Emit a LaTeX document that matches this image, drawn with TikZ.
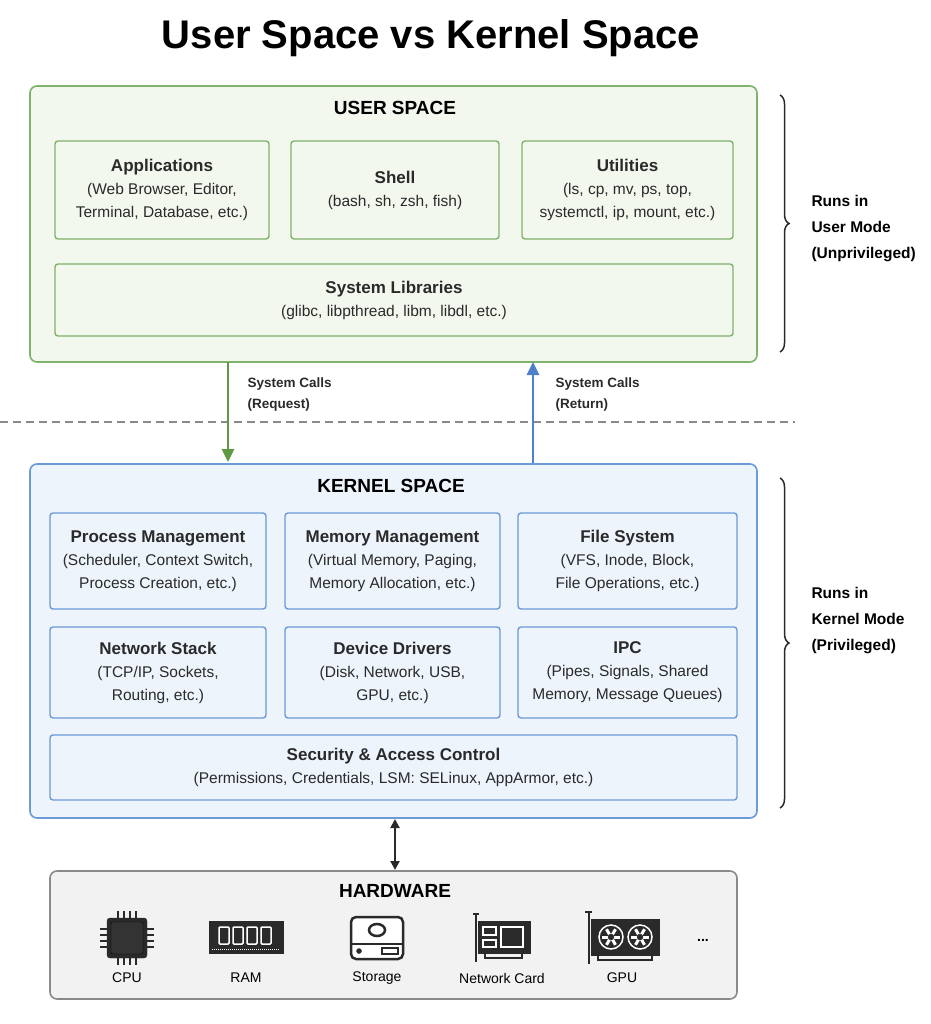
\documentclass[tikz,border=0pt]{standalone}
\usepackage{fontspec}
\setmainfont{Liberation Sans}
\usetikzlibrary{positioning, decorations.pathreplacing, arrows.meta}

\definecolor{ufill}{HTML}{F3F8EF}
\definecolor{uline}{HTML}{7FB26A}
\definecolor{kfill}{HTML}{EEF4FC}
\definecolor{kline}{HTML}{6A9AD8}
\definecolor{hfill}{HTML}{F2F2F2}
\definecolor{hline}{HTML}{8A8A8A}
\definecolor{ink}{HTML}{2A2A2A}
\definecolor{reqgreen}{HTML}{5E9A45}
\definecolor{retblue}{HTML}{4E7FC8}

\tikzset{
    layer/.style={draw=#1, line width=1.6pt, rounded corners=7pt},
    part/.style={draw=#1, line width=1.4pt, rounded corners=3pt, align=center,
        inner sep=0pt, font=\fontsize{15.5}{23}\selectfont, text=ink},
    head/.style={font=\bfseries\fontsize{19}{22}\selectfont, text=black},
    brace/.style={decorate, decoration={brace, amplitude=9pt}, line width=1.5pt, draw=ink},
    side/.style={align=left, anchor=west, font=\bfseries\fontsize{15.5}{26}\selectfont, text=black},
    call/.style={align=left, anchor=north west, font=\bfseries\fontsize{13.5}{21}\selectfont, text=ink},
    hwlabel/.style={font=\fontsize{14}{16}\selectfont, text=black},
}
\newcommand{\parttext}[2]{{\bfseries\fontsize{17}{24}\selectfont #1}\\#2}

\begin{document}
\begin{tikzpicture}[x=1pt, y=-1pt]
    \useasboundingbox (0,0) rectangle (930,1024);
    \node[font=\bfseries\fontsize{40}{44}\selectfont] (title) at (431,38) {User Space vs Kernel Space};

    % user space
    \draw[layer=uline, fill=ufill] (30,86) rectangle (757,362);
    \node[head] (ushead) at (395,108) {USER SPACE};
    \node[part=uline, minimum width=214pt, minimum height=98pt] (apps) at (162,190)
        {\parttext{Applications}{(Web Browser, Editor,\\Terminal, Database, etc.)}};
    \node[part=uline, minimum width=208pt, minimum height=98pt] (shell) at (395,190)
        {\parttext{Shell}{(bash, sh, zsh, fish)}};
    \node[part=uline, minimum width=211pt, minimum height=98pt] (utils) at (627.5,190)
        {\parttext{Utilities}{(ls, cp, mv, ps, top,\\systemctl, ip, mount, etc.)}};
    \node[part=uline, minimum width=678pt, minimum height=72pt] (libs) at (394,300)
        {\parttext{System Libraries}{(glibc, libpthread, libm, libdl, etc.)}};

    \draw[brace] (780,95) -- (780,352);
    \node[side] (umode) at (808,229) {Runs in\\User Mode\\(Unprivileged)};

    % boundary
    \draw[dashed, hline, line width=1.5pt, dash pattern=on 8pt off 5pt] (0,422) -- (795,422);

    \coordinate (reqtop) at (228,362);
    \coordinate (reqbot) at (228,462);
    \coordinate (rettop) at (533,362);
    \coordinate (retbot) at (533,464);
    \draw[-{Triangle[length=13pt,width=12pt]}, reqgreen, line width=2.6pt] (reqtop) -- (reqbot);
    \draw[-{Triangle[length=13pt,width=12pt]}, retblue, line width=2.6pt] (retbot) -- (rettop);
    \node[call] (req) at (244,374) {System Calls\\(Request)};
    \node[call] (ret) at (552,374) {System Calls\\(Return)};

    % kernel space
    \draw[layer=kline, fill=kfill] (30,464) rectangle (757,818);
    \node[head] (kshead) at (391,486) {KERNEL SPACE};
    \node[part=kline, minimum width=216pt, minimum height=96pt] (proc) at (158,561)
        {\parttext{Process Management}{(Scheduler, Context Switch,\\Process Creation, etc.)}};
    \node[part=kline, minimum width=215pt, minimum height=96pt] (mem) at (392.5,561)
        {\parttext{Memory Management}{(Virtual Memory, Paging,\\Memory Allocation, etc.)}};
    \node[part=kline, minimum width=219pt, minimum height=96pt] (fs) at (627.5,561)
        {\parttext{File System}{(VFS, Inode, Block,\\File Operations, etc.)}};
    \node[part=kline, minimum width=216pt, minimum height=91pt] (net) at (158,672.5)
        {\parttext{Network Stack}{(TCP/IP, Sockets,\\Routing, etc.)}};
    \node[part=kline, minimum width=215pt, minimum height=91pt] (drv) at (392.5,672.5)
        {\parttext{Device Drivers}{(Disk, Network, USB,\\GPU, etc.)}};
    \node[part=kline, minimum width=219pt, minimum height=91pt] (ipc) at (627.5,672.5)
        {\parttext{IPC}{(Pipes, Signals, Shared\\Memory, Message Queues)}};
    \node[part=kline, minimum width=687pt, minimum height=65pt] (sec) at (393.5,767.5)
        {\parttext{Security \& Access Control}{(Permissions, Credentials, LSM: SELinux, AppArmor, etc.)}};

    \draw[brace] (780,478) -- (780,808);
    \node[side] (kmode) at (808,621) {Runs in\\Kernel Mode\\(Privileged)};

    % hardware
    \coordinate (ktop) at (395,819);
    \coordinate (hbot) at (395,870);
    \draw[{Triangle[length=9pt,width=9pt]}-{Triangle[length=9pt,width=9pt]}, ink, line width=2pt] (ktop) -- (hbot);
    \draw[layer=hline, fill=hfill] (50,871) rectangle (737,999);
    \node[head] (hwhead) at (395,891) {HARDWARE};

    % cpu
    \foreach \i in {-9,-3,3,9}{
        \draw[ink, line width=2.5pt] (127+\i,911) -- (127+\i,965);
        \draw[ink, line width=2.5pt] (100,938+\i) -- (154,938+\i);
    }
    \draw[ink, fill=ink, rounded corners=3pt] (107,918) rectangle (147,958);
    \draw[black, fill=black!80, rounded corners=2pt] (111,922) rectangle (143,954);
    \node[hwlabel] (cpu) at (127,978) {CPU};

    % ram
    \draw[ink, fill=ink] (209,921) rectangle (283,953);
    \foreach \i in {0,1,2,3}
        \draw[white, line width=1.5pt, rounded corners=1pt] (219+\i*14,927) rectangle (229+\i*14,944);
    \draw[white, line width=0.6pt, dash pattern=on 1pt off 1pt] (212,949) -- (280,949);
    \node[hwlabel] (ram) at (246,978) {RAM};

    % storage
    \draw[ink, fill=white, line width=2.5pt, rounded corners=5pt] (351,917) rectangle (403,959);
    \draw[ink, line width=2.5pt] (351,944) -- (403,944);
    \draw[ink, line width=2.5pt] (377,930) ellipse (8pt and 6pt);
    \draw[ink, fill=ink] (359,951) circle (2.5pt);
    \draw[ink, line width=2pt] (382,948) rectangle (398,954);
    \node[hwlabel] (storage) at (377,978) {Storage};

    % network card
    \draw[ink, line width=2.5pt] (476,914) -- (476,962);
    \draw[ink, line width=2.5pt] (473,914) -- (479,914);
    \draw[ink, fill=ink] (478,921) rectangle (530,953);
    \draw[white, line width=1.5pt] (483,927) rectangle (496,935);
    \draw[white, line width=1.5pt] (483,940) rectangle (496,947);
    \draw[white, line width=1.5pt] (501,927) rectangle (523,947);
    \draw[ink, line width=2.5pt] (485,953) -- (485,958) -- (522,958) -- (522,953);
    \node[hwlabel] (nic) at (502,978) {Network Card};

    % gpu
    \draw[ink, line width=2.5pt] (589,912) -- (589,964);
    \draw[ink, line width=2.5pt] (585,912) -- (592,912);
    \draw[ink, fill=ink] (591,919) rectangle (659,955);
    \foreach \c in {611,640}{
        \draw[white, line width=1.5pt] (\c,937) circle (12pt);
        \foreach \a in {0,60,...,300}
            \draw[white, line width=3pt] (\c,937) -- ++(\a:9pt);
        \draw[ink, fill=ink] (\c,937) circle (3pt);
    }
    \draw[ink, line width=2.5pt] (598,955) -- (598,960) -- (652,960) -- (652,955);
    \node[hwlabel] (gpu) at (622,978) {GPU};
    \node[font=\bfseries\fontsize{14}{16}\selectfont] (more) at (703,940) {...};
\end{tikzpicture}
\end{document}
